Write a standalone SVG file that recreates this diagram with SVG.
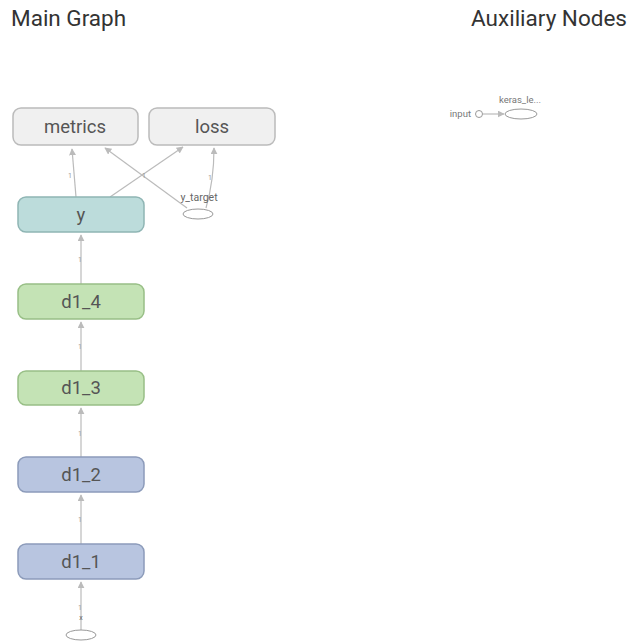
<svg xmlns="http://www.w3.org/2000/svg" width="633" height="642" viewBox="0 0 633 642">
<style>
.title{font-family:Roboto,"Liberation Sans",sans-serif;font-size:22.5px;fill:#333}
.lbl{font-family:Roboto,"Liberation Sans",sans-serif;font-size:18.5px;fill:#555;text-anchor:middle}
.sm{font-family:Roboto,"Liberation Sans",sans-serif;font-size:10.5px;fill:#666;text-anchor:middle}
.el{font-family:Roboto,"Liberation Sans",sans-serif;font-size:7px;fill:#999;text-anchor:middle}
.aux{font-family:Roboto,"Liberation Sans",sans-serif;font-size:9.5px;fill:#777}
.grey{fill:#f0f0f0;stroke:#bbb;stroke-width:1.5}
.teal{fill:#bcdcdb;stroke:#8fb5b4;stroke-width:1.5}
.green{fill:#c4e3b5;stroke:#98bf86;stroke-width:1.5}
.blue{fill:#b8c5e0;stroke:#8c9bba;stroke-width:1.5}
.ell{fill:#fff;stroke:#999;stroke-width:1}
.edge{fill:none;stroke:#bbb;stroke-width:1.2;marker-end:url(#arr)}
</style>
<defs>
<marker id="arr" viewBox="0 0 10 10" refX="9" refY="5" markerWidth="7" markerHeight="7" orient="auto" markerUnits="userSpaceOnUse">
<path d="M0,0 L10,5 L0,10 z" fill="#bbb"/>
</marker>
</defs>
<rect width="633" height="642" fill="#fff"/>
<text class="title" x="11" y="26">Main Graph</text>
<text class="title" x="627" y="26" text-anchor="end">Auxiliary Nodes</text>

<g id="connectors">
<path class="edge" d="M76,197 L72,149"/>
<path class="edge" d="M110,197 L183,147"/>
<path class="edge" d="M187,208 L105,148"/>
<path class="edge" d="M206,208 Q214,180 214,148"/>
<path class="edge" d="M81,284 L81,235"/>
<path class="edge" d="M81,371 L81,322"/>
<path class="edge" d="M81,457 L81,408"/>
<path class="edge" d="M81,544 L81,495"/>
<path class="edge" d="M81,630 L81,582"/>
<path class="edge" d="M483,114 L504,114"/>
<text class="el" x="70" y="178">1</text>
<text class="el" x="144" y="178">1</text>
<text class="el" x="210" y="180">1</text>
<text class="el" x="80" y="262">1</text>
<text class="el" x="80" y="349">1</text>
<text class="el" x="80" y="436">1</text>
<text class="el" x="80" y="522">1</text>
<text class="el" x="80" y="610">1</text>
<text class="el" x="81" y="620" style="fill:#666">x</text>
</g>

<g id="metrics"><rect class="grey" x="13" y="108" width="125" height="37" rx="8"/><text class="lbl" x="75" y="133">metrics</text></g>
<g id="loss"><rect class="grey" x="149" y="108" width="126" height="37" rx="8"/><text class="lbl" x="212" y="133">loss</text></g>
<g id="y"><rect class="teal" x="18" y="197" width="126" height="35" rx="8"/><text class="lbl" x="81" y="221">y</text></g>
<g id="y_target"><ellipse class="ell" cx="198" cy="214" rx="15" ry="5"/><text class="sm" x="199" y="201">y_target</text></g>
<g id="d1_4"><rect class="green" x="18" y="284" width="126" height="35" rx="8"/><text class="lbl" x="81" y="308">d1_4</text></g>
<g id="d1_3"><rect class="green" x="18" y="371" width="126" height="34" rx="8"/><text class="lbl" x="81" y="394">d1_3</text></g>
<g id="d1_2"><rect class="blue" x="18" y="457" width="126" height="35" rx="8"/><text class="lbl" x="81" y="481">d1_2</text></g>
<g id="d1_1"><rect class="blue" x="18" y="544" width="126" height="35" rx="8"/><text class="lbl" x="81" y="568">d1_1</text></g>
<g id="x"><ellipse class="ell" cx="81" cy="635" rx="15" ry="5"/></g>
<g id="input"><text class="aux" x="471" y="117" text-anchor="end">input</text><circle class="ell" cx="479" cy="114" r="3.5"/></g>
<g id="keras_le"><ellipse class="ell" cx="521" cy="114" rx="16" ry="5"/><text class="aux" x="520" y="103" text-anchor="middle">keras_le...</text></g>
</svg>
